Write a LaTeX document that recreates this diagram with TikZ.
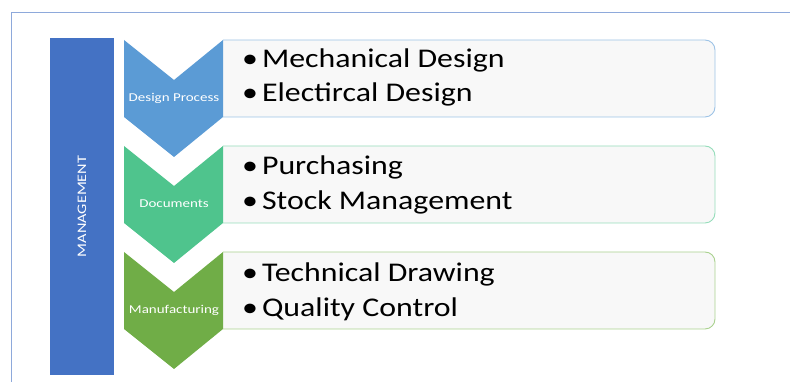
\documentclass[tikz,border=0pt]{standalone}
\usepackage{fontspec}
\setmainfont{Carlito}
\newfontfamily\itemfont[FakeStretch=1.18]{Carlito}
\newfontfamily\stagefont[FakeStretch=1.25]{Carlito}
\usetikzlibrary{positioning}

\definecolor{framecol}{HTML}{8EA9DB}
\definecolor{mgmtcol}{HTML}{4472C4}
\definecolor{designcol}{HTML}{5B9BD5}
\definecolor{doccol}{HTML}{4FC48D}
\definecolor{manucol}{HTML}{70AD47}
\definecolor{designline}{HTML}{9DC3E6}
\definecolor{docline}{HTML}{95DDBA}
\definecolor{manuline}{HTML}{A9D18E}
\definecolor{boxgray}{HTML}{F8F8F8}

\tikzset{
  itembox/.style={fill=boxgray, line width=0.9pt},
  stage/.style={text=white, inner sep=0pt, font=\stagefont\fontsize{12}{14}\selectfont},
  item/.style={anchor=base west, inner sep=0pt, font=\itemfont\fontsize{27}{32}\selectfont},
}
\newcommand{\bul}{\textbullet\hspace{4pt}}

\begin{document}
\begin{tikzpicture}[x=1pt,y=1pt]
  \useasboundingbox (0,0) rectangle (790,382);

  % frame
  \draw[framecol, line width=0.7pt] (790,370) -- (11,370) -- (11,0);

  % management bar
  \fill[mgmtcol] (50,7) rectangle (114,344);
  \node[rotate=90, text=white, inner sep=0pt, font=\stagefont\fontsize{13}{15}\selectfont] (mgmt) at (82,175.5) {MANAGEMENT};

  % design process
  \draw[itembox, draw=designline] (223,342) -- (705,342) arc[start angle=90, end angle=0, radius=10]
      -- (715,275) arc[start angle=0, end angle=-90, radius=10] -- (223,265);
  \fill[designcol] (124,342) -- (174,302) -- (223,342) -- (223,265) -- (174,225) -- (124,265) -- cycle;
  \node[stage] (design) at (174,284) {Design Process};
  \node[item] (mech) at (242,314) {\bul Mechanical Design};
  \node[item] (elec) at (242,280) {\bul Electircal Design};

  % documents
  \draw[itembox, draw=docline] (223,236) -- (705,236) arc[start angle=90, end angle=0, radius=10]
      -- (715,169) arc[start angle=0, end angle=-90, radius=10] -- (223,159);
  \fill[doccol] (124,236) -- (174,196) -- (223,236) -- (223,159) -- (174,119) -- (124,159) -- cycle;
  \node[stage] (docs) at (174,178) {Documents};
  \node[item] (purch) at (242,207) {\bul Purchasing};
  \node[item] (stock) at (242,172) {\bul Stock Management};

  % manufacturing
  \draw[itembox, draw=manuline] (223,130) -- (705,130) arc[start angle=90, end angle=0, radius=10]
      -- (715,63) arc[start angle=0, end angle=-90, radius=10] -- (223,53);
  \fill[manucol] (124,130) -- (174,90) -- (223,130) -- (223,53) -- (174,13) -- (124,53) -- cycle;
  \node[stage] (manu) at (174,72) {Manufacturing};
  \node[item] (techd) at (242,100) {\bul Technical Drawing};
  \node[item] (qual) at (242,65) {\bul Quality Control};
\end{tikzpicture}
\end{document}
